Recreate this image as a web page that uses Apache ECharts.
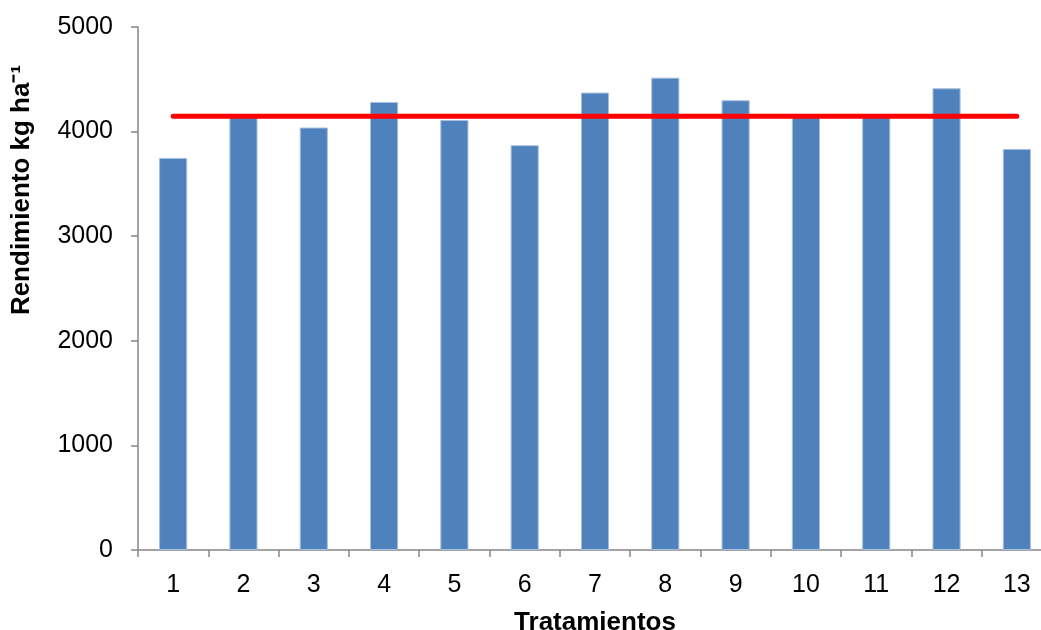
<!DOCTYPE html>
<html>
<head>
<meta charset="utf-8">
<script src="https://cdn.jsdelivr.net/npm/echarts@6/dist/echarts.min.js"></script>
<style>
html,body{margin:0;padding:0;background:#fff;}
#chart{width:1041px;height:630px;}
</style>
</head>
<body>
<div id="chart"></div>
<script>
const categories = ['1','2','3','4','5','6','7','8','9','10','11','12','13'];
const yieldValues = [3748, 4140, 4039, 4283, 4111, 3870, 4373, 4516, 4300, 4140, 4140, 4414, 3834];
const meanLine = [4147, 4147, 4147, 4147, 4147, 4147, 4147, 4147, 4147, 4147, 4147, 4147, 4147];
const yTicks = { min: 0, max: 5000, interval: 1000 };
const xTitle = 'Tratamientos';
const yTitle = 'Rendimiento kg ha\u207B\u00B9';

const FONT = 'Liberation Sans, Arial, sans-serif';
const chart = echarts.init(document.getElementById('chart'), null, { renderer: 'canvas' });
chart.setOption({
  animation: false,
  backgroundColor: '#ffffff',
  grid: { left: 138, top: 27, width: 914, bottom: 80, containLabel: false, outerBoundsMode: 'none' },
  xAxis: {
    type: 'category',
    data: categories,
    boundaryGap: true,
    name: xTitle,
    nameLocation: 'middle',
    nameGap: 60,
    nameTextStyle: { fontFamily: FONT, fontSize: 26, fontWeight: 'bold', color: '#000' },
    axisLine: { show: true, lineStyle: { color: '#868686', width: 1.5 } },
    axisTick: { show: true, length: 7, lineStyle: { color: '#868686', width: 1.5 } },
    axisLabel: { fontFamily: FONT, fontSize: 25, color: '#000', margin: 23 },
    splitLine: { show: false }
  },
  yAxis: {
    type: 'value',
    min: yTicks.min,
    max: yTicks.max,
    interval: yTicks.interval,
    axisLine: { show: true, lineStyle: { color: '#868686', width: 1.5 } },
    axisTick: { show: true, length: 7, lineStyle: { color: '#868686', width: 1.5 } },
    axisLabel: { fontFamily: FONT, fontSize: 25, color: '#000', margin: 25, formatter: function (v) { return String(v); } },
    splitLine: { show: false }
  },
  graphic: [{
    type: 'text',
    x: 22,
    y: 190,
    rotation: Math.PI / 2,
    style: {
      text: yTitle,
      font: 'bold 26px ' + FONT,
      fill: '#000',
      textAlign: 'center',
      textVerticalAlign: 'middle'
    }
  }],
  series: [
    {
      type: 'bar',
      data: yieldValues,
      barWidth: '40%',
      itemStyle: { color: '#4F81BD', borderColor: '#A7BFDE', borderWidth: 1 }
    },
    {
      type: 'line',
      data: meanLine,
      symbol: 'none',
      lineStyle: { color: '#FF0000', width: 5, cap: 'round' },
      z: 5
    }
  ]
});
</script>
</body>
</html>
